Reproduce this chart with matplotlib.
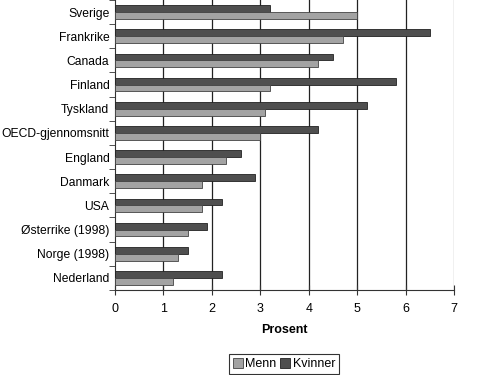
import matplotlib
matplotlib.use("Agg")
import matplotlib.pyplot as plt
import numpy as np
from matplotlib.patches import Patch

plt.rcParams['font.family'] = ['Liberation Sans', 'DejaVu Sans']

countries = ["Sverige", "Frankrike", "Canada", "Finland", "Tyskland", "OECD-gjennomsnitt",
             "England", "Danmark", "USA", "Østerrike (1998)", "Norge (1998)", "Nederland"]
menn = [5.0, 4.7, 4.2, 3.2, 3.1, 3.0, 2.3, 1.8, 1.8, 1.5, 1.3, 1.2]
kvinner = [3.2, 6.5, 4.5, 5.8, 5.2, 4.2, 2.6, 2.9, 2.2, 1.9, 1.5, 2.2]
xticks = [0, 1, 2, 3, 4, 5, 6, 7]

fig = plt.figure(figsize=(5, 3.75), dpi=100)
ax = fig.add_axes([0.23, 0.2267, 0.678, 0.7733])

y = np.arange(len(countries))
h = 0.28
dark = "#4f4f4f"
light = "#a3a3a3"
ax.barh(y - h / 2, kvinner, height=h, color=dark, edgecolor="#222222", linewidth=0.6, zorder=3)
ax.barh(y + h / 2, menn, height=h, color=light, edgecolor="#444444", linewidth=0.6, zorder=3)

ax.set_xlim(0, 7)
ax.set_ylim(len(countries) - 0.5, -0.5)
ax.set_xticks(xticks)
ax.set_yticks(y)
ax.set_yticklabels(countries, fontsize=8.7)
ax.set_yticks(np.arange(-0.5, len(countries), 1), minor=True)
ax.tick_params(axis='y', which='major', length=0, pad=4)
ax.tick_params(axis='y', which='minor', length=4, direction='out', color='#333333')
ax.tick_params(axis='x', length=7, direction='inout', labelsize=9, pad=6, color='#333333')

for xv in xticks[1:]:
    ax.axvline(xv, color='#222222' if xv < 7 else '#888888', linewidth=0.9, zorder=1)

for s in ['top', 'right']:
    ax.spines[s].set_visible(False)
ax.spines['left'].set_color('#333333')
ax.spines['bottom'].set_color('#333333')

ax.set_xlabel("Prosent", fontsize=9, fontweight='bold', labelpad=6)

handles = [Patch(facecolor=light, edgecolor='#444444', linewidth=0.6, label="Menn"),
           Patch(facecolor=dark, edgecolor='#222222', linewidth=0.6, label="Kvinner")]
leg = fig.legend(handles=handles, loc='upper center', bbox_to_anchor=(0.568, 0.055), ncol=2,
                 fontsize=9, frameon=True, fancybox=False, edgecolor='black',
                 handlelength=0.8, handleheight=0.8, handletextpad=0.2, columnspacing=0.3,
                 borderpad=0.3, borderaxespad=0)
leg.get_frame().set_linewidth(0.8)

fig.savefig("out.png", dpi=100)
